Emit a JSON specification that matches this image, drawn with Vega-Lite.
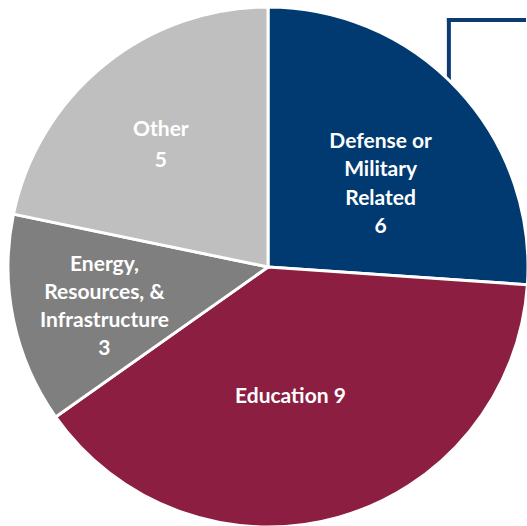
{
  "$schema": "https://vega.github.io/schema/vega-lite/v6.json",
  "width": 527,
  "height": 526,
  "autosize": {"type": "fit", "contains": "padding"},
  "padding": {"left": 9, "top": 8, "right": 0, "bottom": 0},
  "background": "white",
  "config": {"view": {"stroke": null}},
  "data": {"values": [
    {"category": "Defense or Military Related", "value": 6, "order": 1, "label": ["Defense or", "Military", "Related", "6"]},
    {"category": "Education", "value": 9, "order": 2, "label": ["Education 9"]},
    {"category": "Energy, Resources, & Infrastructure", "value": 3, "order": 3, "label": ["Energy,", "Resources, &", "Infrastructure", "3"]},
    {"category": "Other", "value": 5, "order": 4, "label": ["Other", "5"]}
  ]},
  "encoding": {
    "theta": {"field": "value", "type": "quantitative", "stack": true},
    "order": {"field": "order", "type": "quantitative"}
  },
  "layer": [
    {
      "data": {"values": [
        {"x": 442, "y": 9, "x2": 518, "y2": 9},
        {"x": 442, "y": 9, "x2": 442, "y2": 300}
      ]},
      "mark": {"type": "rule", "color": "#0B3B72", "strokeWidth": 4, "strokeCap": "square"},
      "encoding": {
        "theta": null,
        "order": null,
        "x": {"field": "x", "type": "quantitative", "scale": {"domain": [0, 518], "nice": false, "zero": false}, "axis": null},
        "x2": {"field": "x2"},
        "y": {"field": "y", "type": "quantitative", "scale": {"domain": [0, 518], "nice": false, "zero": false, "reverse": true}, "axis": null},
        "y2": {"field": "y2"}
      }
    },
    {
      "mark": {"type": "arc", "radius": 260, "stroke": "white", "strokeWidth": 3},
      "encoding": {
        "color": {"field": "category", "type": "nominal",
          "scale": {"domain": ["Defense or Military Related", "Education", "Energy, Resources, & Infrastructure", "Other"],
                    "range": ["#003A70", "#8B1E41", "#7F7F7F", "#BFBFBF"]},
          "legend": null}
      }
    },
    {
      "mark": {"type": "text", "radius": 150, "dx": 3, "dy": -23, "font": "Lato", "fontWeight": "bold", "fontSize": 21, "lineHeight": 28.5, "color": "white", "align": "center", "baseline": "middle"},
      "encoding": {"text": {"condition": {"test": "datum.order === 1", "field": "label"}, "value": ""}}
    },
    {
      "mark": {"type": "text", "radius": 135, "dx": -14, "dy": 0, "font": "Lato", "fontWeight": "bold", "fontSize": 21, "lineHeight": 28, "color": "white", "align": "center", "baseline": "middle"},
      "encoding": {"text": {"condition": {"test": "datum.order === 2", "field": "label"}, "value": ""}}
    },
    {
      "mark": {"type": "text", "radius": 165, "dx": -2, "dy": -36, "font": "Lato", "fontWeight": "bold", "fontSize": 21, "lineHeight": 28, "color": "white", "align": "center", "baseline": "middle"},
      "encoding": {"text": {"condition": {"test": "datum.order === 3", "field": "label"}, "value": ""}}
    },
    {
      "mark": {"type": "text", "radius": 165, "dx": -3, "dy": -9, "font": "Lato", "fontWeight": "bold", "fontSize": 21, "lineHeight": 31, "color": "white", "align": "center", "baseline": "middle"},
      "encoding": {"text": {"condition": {"test": "datum.order === 4", "field": "label"}, "value": ""}}
    }
  ]
}
